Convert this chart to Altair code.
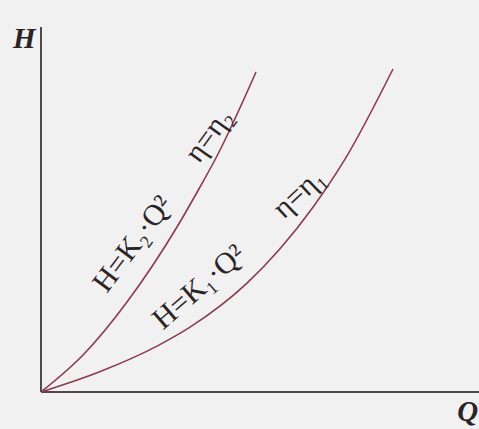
import altair as alt
import pandas as pd

# Pump characteristic sketch: two similarity parabolas H = K·Q² through the origin
q_k2 = [0, 1.075, 2.15, 3.4, 3.975, 4.4, 5.375]
h_k2 = [0, 0.95, 2.25, 4.125, 5.125, 5.9, 8.0]

q_k1 = [0, 1.45, 2.925, 3.725, 5.15, 5.975, 6.8, 7.6, 8.8]
h_k1 = [0, 0.5, 1.16, 1.62, 2.72, 3.58, 4.62, 5.82, 8.075]

q_max = 10.95
h_max = 9.125

curves = pd.concat([
    pd.DataFrame({"Q": q_k2, "H": h_k2, "curve": "K2"}),
    pd.DataFrame({"Q": q_k1, "H": h_k1, "curve": "K1"}),
])

x_scale = alt.Scale(domain=[-1.025, 10.95], nice=False, zero=False)
y_scale = alt.Scale(domain=[-0.925, 9.8], nice=False, zero=False)

ink = "#2b2426"
curve_color = "#8e3b52"
axis_color = "#4d4a4b"
serif = "Liberation Serif"

axes_df = pd.DataFrame({
    "x": [0, 0], "y": [0, 0], "x2": [0, q_max], "y2": [h_max, 0],
})
axes_lines = alt.Chart(axes_df).mark_rule(color=axis_color, strokeWidth=2).encode(
    x=alt.X("x:Q", scale=x_scale, axis=None),
    y=alt.Y("y:Q", scale=y_scale, axis=None),
    x2="x2:Q",
    y2="y2:Q",
)

lines = alt.Chart(curves).mark_line(
    color=curve_color, strokeWidth=1.6, interpolate="monotone"
).encode(
    x=alt.X("Q:Q", scale=x_scale, axis=None),
    y=alt.Y("H:Q", scale=y_scale, axis=None),
    detail="curve:N",
)

# labels written along the curves
label_df = pd.DataFrame({
    "x": [2.3, 4.2, 3.95, 6.45],
    "y": [3.7, 6.42, 2.62, 4.97],
    "text": ["H=K₂·Q²", "η=η₂", "H=K₁·Q²", "η=η₁"],
    "angle": [307, 306, 319, 317],
})
labels = alt.Chart(label_df).mark_text(
    font=serif, fontSize=30, color=ink, align="center", baseline="middle"
).encode(
    x=alt.X("x:Q", scale=x_scale, axis=None),
    y=alt.Y("y:Q", scale=y_scale, axis=None),
    text="text:N",
    angle=alt.Angle("angle:Q", scale=None),
)


def axis_title(text, x, y, align):
    return alt.Chart(pd.DataFrame({"x": [x], "y": [y], "text": [text]})).mark_text(
        font=serif, fontSize=29, fontStyle="italic", fontWeight="bold",
        color=ink, baseline="alphabetic", align=align,
    ).encode(
        x=alt.X("x:Q", scale=x_scale, axis=None),
        y=alt.Y("y:Q", scale=y_scale, axis=None),
        text="text:N",
    )


title_h = axis_title("H", -0.7, 8.6, "left")
title_q = axis_title("Q", 10.93, -0.725, "right")

chart = alt.layer(axes_lines, lines, labels, title_h, title_q).properties(
    width=479, height=429, padding=0, autosize=alt.AutoSizeParams(type="none"),
    background="#f1f1f1",
).configure_view(stroke=None)

chart.save("out.html", embed_options={"renderer": "svg", "actions": False})
